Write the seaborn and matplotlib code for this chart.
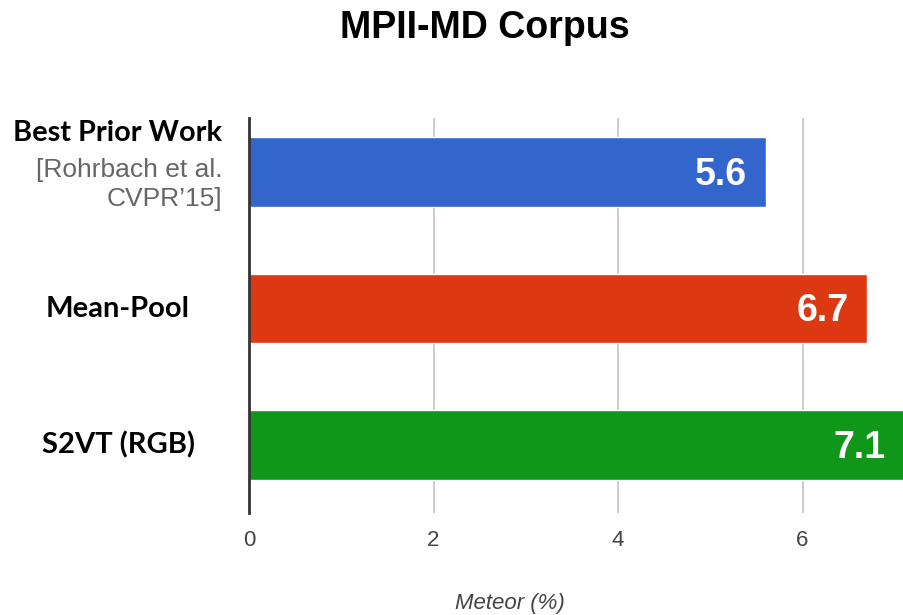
import matplotlib
matplotlib.use("Agg")
import matplotlib.pyplot as plt
import matplotlib.transforms as mtransforms
import seaborn as sns
import pandas as pd

# Meteor scores on MPII-MD
methods = ["Best Prior Work", "Mean-Pool", "S2VT (RGB)"]
scores = [5.6, 6.7, 7.1]
colors = ["#3366CC", "#DC3912", "#109618"]
method_notes = ["[Rohrbach et al.\nCVPR\u201915]", "", ""]
x_ticks = [0, 2, 4, 6]

sns.set_theme(style="white")
plt.rcParams["font.family"] = ["Liberation Sans", "DejaVu Sans"]

df = pd.DataFrame({"method": methods, "score": scores})

fig = plt.figure(figsize=(9.04, 6.15), dpi=100)
ax = fig.add_axes([249 / 904, 1 - 513 / 615, 655 / 904, 395 / 615])

sns.barplot(data=df, y="method", x="score", hue="method", palette=colors,
            order=methods, hue_order=methods, width=0.51, legend=False,
            saturation=1, ax=ax, zorder=3)

ax.set_xlim(0, 7.1)
ax.set_ylim(2.496, -0.394)

# grid and axis line
ax.set_xticks(x_ticks)
ax.grid(axis="x", color="#cccccc", linewidth=1.4, zorder=0)
ax.grid(axis="y", visible=False)
for side in ["top", "right", "bottom"]:
    ax.spines[side].set_visible(False)
ax.spines["left"].set_color("#333333")
ax.spines["left"].set_linewidth(2)
ax.spines["left"].set_zorder(4)

ax.tick_params(axis="x", length=0, pad=12, labelsize=16, labelcolor="#444444")
for lbl in ax.get_xticklabels():
    lbl.set_family(["Liberation Sans Narrow", "Liberation Sans", "DejaVu Sans"])
ax.set_yticks([])
ax.set_ylabel("")
ax.set_xlabel("")

# value labels inside the bars
for i, v in enumerate(scores):
    ax.text(v - 0.2, i + 0.02, f"{v}", ha="right", va="center", color="white",
            fontsize=27, fontweight="bold", zorder=5, clip_on=False)

# method labels to the left of the axis
trans = mtransforms.blended_transform_factory(ax.transAxes, ax.transData)
label_font = ["Lato", "DejaVu Sans"]
for i, (name, note) in enumerate(zip(methods, method_notes)):
    if note:
        ax.text(-0.041, i - 0.285, name, transform=trans, ha="right", va="center",
                fontsize=20.8, fontweight="bold", color="black", family=label_font)
        ax.text(-0.041, i - 0.10, note, transform=trans, ha="right", va="top",
                fontsize=19, color="#666666", linespacing=1.25)
    else:
        ax.text(-0.2, i, name, transform=trans, ha="center", va="center",
                fontsize=21, fontweight="bold", color="black", family=label_font)

fig.text(485 / 904, 1 - 28 / 615, "MPII-MD Corpus", ha="center", va="center",
         fontsize=27, fontweight="bold", color="black")
fig.text(510 / 904, 1 - 603 / 615, "Meteor (%)", ha="center", va="center",
         fontsize=16, fontstyle="italic", color="#444444",
         family=["Liberation Sans Narrow", "Liberation Sans", "DejaVu Sans"])

fig.savefig("out.png", dpi=100)
